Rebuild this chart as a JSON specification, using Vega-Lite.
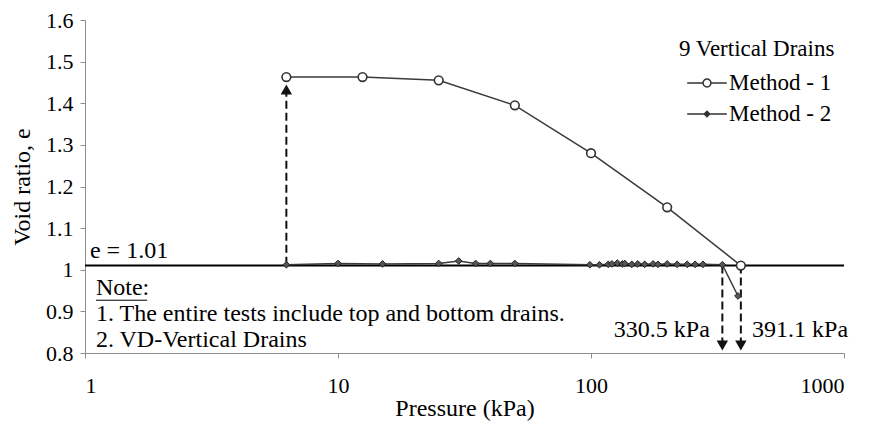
{
  "$schema": "https://vega.github.io/schema/vega-lite/v6.json",
  "width": 759,
  "height": 333,
  "autosize": {"type": "none"},
  "padding": {"left": 85, "top": 20, "right": 32, "bottom": 77},
  "background": "white",
  "config": {
    "view": {"stroke": null},
    "font": "Liberation Serif, Times New Roman, DejaVu Serif, serif",
    "axis": {
      "grid": false,
      "domainColor": "#8c8c8c",
      "tickColor": "#8c8c8c",
      "tickSize": 5,
      "labelFont": "Liberation Serif, Times New Roman, DejaVu Serif, serif",
      "labelFontSize": 22,
      "labelColor": "black",
      "titleFont": "Liberation Serif, Times New Roman, DejaVu Serif, serif",
      "titleFontSize": 24,
      "titleFontWeight": "normal",
      "titleColor": "black"
    },
    "legend": {
      "orient": "none",
      "legendX": 594,
      "legendY": 18,
      "titleFont": "Liberation Serif, Times New Roman, DejaVu Serif, serif",
      "titleFontSize": 23,
      "titleFontWeight": "normal",
      "titleColor": "black",
      "titlePadding": 3,
      "labelFont": "Liberation Serif, Times New Roman, DejaVu Serif, serif",
      "labelFontSize": 23,
      "labelColor": "black",
      "labelOffset": 3,
      "symbolSize": 1296,
      "symbolOffset": 9,
      "symbolStrokeWidth": 1.5,
      "rowPadding": 0
    },
    "text": {"font": "Liberation Serif, Times New Roman, DejaVu Serif, serif", "fontSize": 24, "color": "black"}
  },
  "datasets": {
    "m1": [
      {"p": 6.25, "e": 1.463},
      {"p": 12.5, "e": 1.463},
      {"p": 25, "e": 1.455},
      {"p": 50, "e": 1.395},
      {"p": 100, "e": 1.28},
      {"p": 200, "e": 1.15},
      {"p": 391.1, "e": 1.01}
    ],
    "m2": [
      {"p": 6.25, "e": 1.012},
      {"p": 10, "e": 1.015},
      {"p": 15, "e": 1.014},
      {"p": 25, "e": 1.015},
      {"p": 30, "e": 1.021},
      {"p": 35, "e": 1.015},
      {"p": 40, "e": 1.015},
      {"p": 50, "e": 1.015},
      {"p": 99, "e": 1.012},
      {"p": 108, "e": 1.012},
      {"p": 117, "e": 1.013},
      {"p": 121, "e": 1.014},
      {"p": 127, "e": 1.016},
      {"p": 133, "e": 1.014},
      {"p": 136, "e": 1.015},
      {"p": 145, "e": 1.013},
      {"p": 153, "e": 1.014},
      {"p": 163, "e": 1.013},
      {"p": 176, "e": 1.014},
      {"p": 184, "e": 1.013},
      {"p": 200, "e": 1.014},
      {"p": 219, "e": 1.013},
      {"p": 240, "e": 1.013},
      {"p": 258, "e": 1.013},
      {"p": 277, "e": 1.013},
      {"p": 330.5, "e": 1.012},
      {"p": 381, "e": 0.937}
    ],
    "arrows": [
      {"p": 6.25, "from": 1.012, "to": 1.44},
      {"p": 330.5, "from": 1.01, "to": 0.815},
      {"p": 391.1, "from": 1.01, "to": 0.815}
    ],
    "headsUp": [{"p": 6.25, "e": 1.433}],
    "headsDown": [{"p": 330.5, "e": 0.818}, {"p": 391.1, "e": 0.818}],
    "leftText": [
      {"p": 1.046, "e": 1.028, "t": "e = 1.01"},
      {"p": 1.105, "e": 0.9393, "t": "Note:"},
      {"p": 1.105, "e": 0.8769, "t": "1. The entire tests include top and bottom drains."},
      {"p": 1.105, "e": 0.8144, "t": "2. VD-Vertical Drains"},
      {"p": 433, "e": 0.838, "t": "391.1 kPa"}
    ],
    "rightText": [
      {"p": 295, "e": 0.838, "t": "330.5 kPa"}
    ],
    "underline": [{"p1": 1.105, "p2": 1.76, "e": 0.9268}],
    "hline": [{"p1": 1, "p2": 1000, "e": 1.01}]
  },
  "layer": [
    {
      "data": {"name": "hline"},
      "mark": {"type": "rule", "color": "black", "strokeWidth": 2},
      "encoding": {
        "x": {"field": "p1", "type": "quantitative", "scale": {"type": "log", "domain": [1, 1000], "nice": false},
              "axis": {"title": "Pressure (kPa)", "values": [1, 10, 100, 1000], "format": "d", "labelPadding": 17, "titlePadding": 0}},
        "x2": {"field": "p2"},
        "y": {"field": "e", "type": "quantitative", "scale": {"domain": [0.8, 1.6], "nice": false, "zero": false},
              "axis": {"title": "Void ratio, e", "values": [0.8, 0.9, 1, 1.1, 1.2, 1.3, 1.4, 1.5, 1.6], "format": "~g", "labelPadding": 7, "titlePadding": 11}}
      }
    },
    {
      "data": {"name": "m1"},
      "mark": {"type": "line", "color": "#3a3a3a", "strokeWidth": 1.5},
      "encoding": {"x": {"field": "p", "type": "quantitative"}, "y": {"field": "e", "type": "quantitative"}}
    },
    {
      "data": {"name": "m2"},
      "mark": {"type": "line", "color": "#3a3a3a", "strokeWidth": 1.5},
      "encoding": {"x": {"field": "p", "type": "quantitative"}, "y": {"field": "e", "type": "quantitative"}}
    },
    {
      "data": {"name": "arrows"},
      "mark": {"type": "rule", "color": "#111", "strokeWidth": 2, "strokeDash": [8, 4]},
      "encoding": {"x": {"field": "p", "type": "quantitative"}, "y": {"field": "from", "type": "quantitative"}, "y2": {"field": "to"}}
    },
    {
      "data": {"name": "headsUp"},
      "mark": {"type": "point", "shape": "triangle-up", "filled": true, "color": "#111", "size": 130, "opacity": 1},
      "encoding": {"x": {"field": "p", "type": "quantitative"}, "y": {"field": "e", "type": "quantitative"}}
    },
    {
      "data": {"name": "headsDown"},
      "mark": {"type": "point", "shape": "triangle-down", "filled": true, "color": "#111", "size": 130, "opacity": 1},
      "encoding": {"x": {"field": "p", "type": "quantitative"}, "y": {"field": "e", "type": "quantitative"}}
    },
    {
      "data": {"name": "m2"},
      "mark": {"type": "point", "shape": "diamond", "filled": true, "fill": "#555", "stroke": "#222", "strokeWidth": 1, "size": 45, "opacity": 1},
      "encoding": {"x": {"field": "p", "type": "quantitative"}, "y": {"field": "e", "type": "quantitative"}}
    },
    {
      "data": {"name": "m1"},
      "mark": {"type": "point", "shape": "circle", "filled": true, "fill": "white", "stroke": "#333", "strokeWidth": 1.6, "size": 75, "opacity": 1},
      "encoding": {"x": {"field": "p", "type": "quantitative"}, "y": {"field": "e", "type": "quantitative"}}
    },
    {
      "data": {"name": "leftText"},
      "mark": {"type": "text", "align": "left", "baseline": "alphabetic", "fontSize": 24},
      "encoding": {"x": {"field": "p", "type": "quantitative"}, "y": {"field": "e", "type": "quantitative"}, "text": {"field": "t"}}
    },
    {
      "data": {"name": "rightText"},
      "mark": {"type": "text", "align": "right", "baseline": "alphabetic", "fontSize": 24},
      "encoding": {"x": {"field": "p", "type": "quantitative"}, "y": {"field": "e", "type": "quantitative"}, "text": {"field": "t"}}
    },
    {
      "data": {"name": "underline"},
      "mark": {"type": "rule", "color": "black", "strokeWidth": 1},
      "encoding": {"x": {"field": "p1", "type": "quantitative"}, "x2": {"field": "p2"}, "y": {"field": "e", "type": "quantitative"}}
    },
    {
      "data": {"values": []},
      "mark": {"type": "point", "filled": true, "strokeWidth": 1.5, "opacity": 1},
      "encoding": {
        "shape": {
          "field": "series", "type": "nominal",
          "scale": {
            "domain": ["Method - 1", "Method - 2"],
            "range": [
              "M-1.1,0H-0.22M0.22,0H1.1M0.22,0A0.22,0.22 0 1,1 -0.22,0A0.22,0.22 0 1,1 0.22,0Z",
              "M-1.1,0H1.1M0,-0.15L0.15,0L0,0.15L-0.15,0Z"
            ]
          },
          "legend": {"title": "9 Vertical Drains"}
        },
        "fill": {
          "field": "series", "type": "nominal",
          "scale": {"domain": ["Method - 1", "Method - 2"], "range": ["white", "#333"]},
          "legend": {"title": "9 Vertical Drains"}
        },
        "stroke": {
          "field": "series", "type": "nominal",
          "scale": {"domain": ["Method - 1", "Method - 2"], "range": ["#333", "#333"]},
          "legend": {"title": "9 Vertical Drains"}
        }
      }
    }
  ]
}
